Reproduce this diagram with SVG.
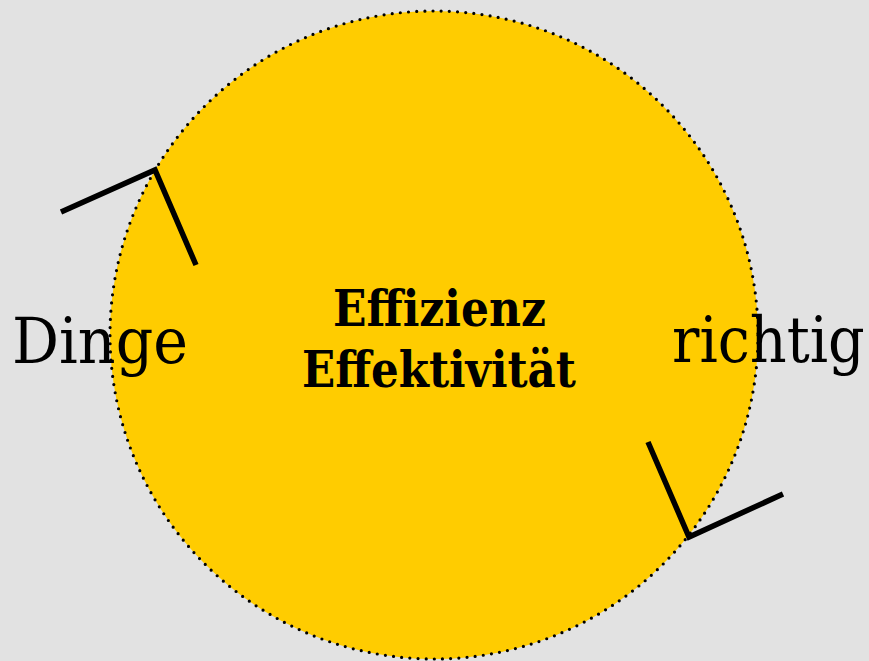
<svg xmlns="http://www.w3.org/2000/svg" width="869" height="661" viewBox="0 0 869 661">
  <style>
    .bg { fill: #e2e2e2; }
    .disc { fill: #ffcc00; stroke: #000; stroke-width: 3.2; stroke-linecap: round; stroke-dasharray: 0 8.2; }
    .arrow { fill: none; stroke: #000; stroke-width: 5.5; stroke-linejoin: miter; }
    .word { font-family: "DejaVu Serif", "Liberation Serif", serif; font-size: 63px; fill: #000; }
    .title { font-family: "DejaVu Serif", "Liberation Serif", serif; font-weight: bold; font-size: 50px; fill: #000; text-anchor: middle; }
  </style>
  <rect class="bg" x="0" y="0" width="869" height="661"/>
  <g id="cycle">
    <circle class="disc" cx="434" cy="335" r="324"/>
  </g>
  <g id="connectors">
    <polyline class="arrow" points="61,212 155,170 196,265"/>
    <polyline class="arrow" points="648,442 689,537 783,494"/>
  </g>
  <g id="label-left">
    <text class="word" x="12" y="363" textLength="176" lengthAdjust="spacingAndGlyphs">Dinge</text>
  </g>
  <g id="label-right" transform="translate(672,362) scale(0.91,1)">
    <text class="word" x="0" y="0">richtig</text>
  </g>
  <g id="center">
    <text class="title" x="439.5" y="326" textLength="213" lengthAdjust="spacingAndGlyphs">Effizienz</text>
    <text class="title" x="439" y="387" textLength="274" lengthAdjust="spacingAndGlyphs">Effektivität</text>
  </g>
</svg>
